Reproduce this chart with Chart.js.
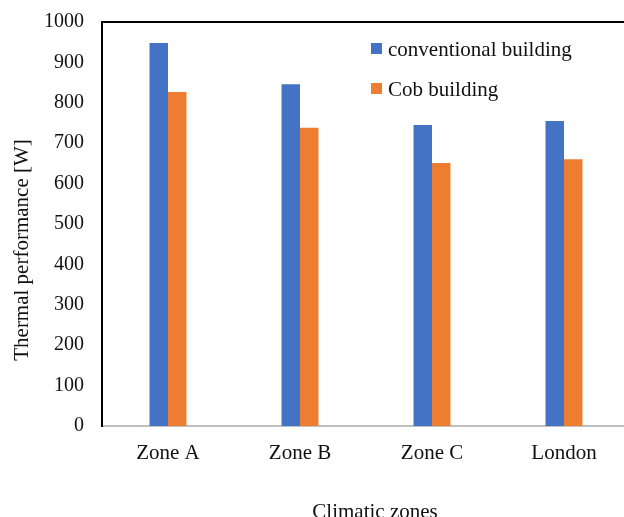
<!DOCTYPE html>
<html>
<head>
<meta charset="utf-8">
<script src="https://cdn.jsdelivr.net/npm/chart.js@4/dist/chart.umd.min.js"></script>
<style>
  html, body { margin: 0; padding: 0; background: #fff; overflow: hidden; }
  #wrap { width: 632px; height: 517px; }
</style>
</head>
<body>
<div id="wrap"><canvas id="thermal"></canvas></div>
<script>
var zones = ["Zone A", "Zone B", "Zone C", "London"];
var conventional = [948, 846, 745, 755];
var cob = [827, 738, 651, 660];
var yTicks = [0, 100, 200, 300, 400, 500, 600, 700, 800, 900, 1000];

var serif = "'Liberation Serif', 'Times New Roman', serif";

// legend, titles and the top frame line, drawn the way Excel placed them
var extras = {
  id: 'extras',
  afterDraw: function (chart) {
    var ctx = chart.ctx;
    var area = chart.chartArea;
    ctx.save();

    ctx.strokeStyle = '#000';
    ctx.lineWidth = 2;
    ctx.beginPath();
    ctx.moveTo(area.left - 1, area.top);
    ctx.lineTo(area.right, area.top);
    ctx.stroke();

    ctx.font = '21px ' + serif;
    ctx.fillStyle = '#111';
    ctx.textBaseline = 'middle';
    chart.data.datasets.forEach(function (ds, i) {
      var y = 49 + i * 40;
      ctx.fillStyle = ds.backgroundColor;
      ctx.fillRect(371, y - 6, 11, 11);
      ctx.fillStyle = '#111';
      ctx.textAlign = 'left';
      ctx.fillText(ds.label, 388, y + 1);
    });

    ctx.textAlign = 'center';
    ctx.fillText('Climatic zones', 375, 512);

    ctx.translate(22, 250);
    ctx.rotate(-Math.PI / 2);
    ctx.fillText('Thermal performance [W]', 0, 0);
    ctx.restore();
  }
};

new Chart(document.getElementById("thermal"), {
  type: 'bar',
  data: {
    labels: zones,
    datasets: [{
      label: 'conventional building',
      data: conventional,
      backgroundColor: '#4472C4'
    }, {
      label: 'Cob building',
      data: cob,
      backgroundColor: '#ED7D31'
    }]
  },
  options: {
    responsive: true,
    maintainAspectRatio: false,
    animation: false,
    layout: { padding: { top: 22, right: 2, left: 0, bottom: 0 } },
    categoryPercentage: 0.28,
    barPercentage: 1,
    plugins: {
      legend: { display: false },
      tooltip: { enabled: false }
    },
    scales: {
      x: {
        grid: { display: false, drawTicks: false },
        border: { display: true, color: '#c0c0c0', width: 2 },
        ticks: {
          padding: 15,
          color: '#111',
          font: { family: serif, size: 21 }
        },
        afterFit: function (scale) {
          scale.height = 91;
          scale.paddingLeft = 0;
          scale.paddingRight = 0;
        }
      },
      y: {
        min: 0,
        max: 1000,
        afterBuildTicks: function (scale) {
          scale.ticks = yTicks.map(function (v) { return { value: v }; });
        },
        grid: { display: false, drawTicks: false },
        border: { display: true, color: '#000', width: 2 },
        ticks: {
          padding: 18,
          color: '#111',
          font: { family: serif, size: 20 },
          callback: function (v) { return String(v); }
        },
        afterFit: function (scale) {
          scale.width = 102;
          scale.paddingTop = 0;
          scale.paddingBottom = 0;
        }
      }
    }
  },
  plugins: [extras]
});
</script>
</body>
</html>
